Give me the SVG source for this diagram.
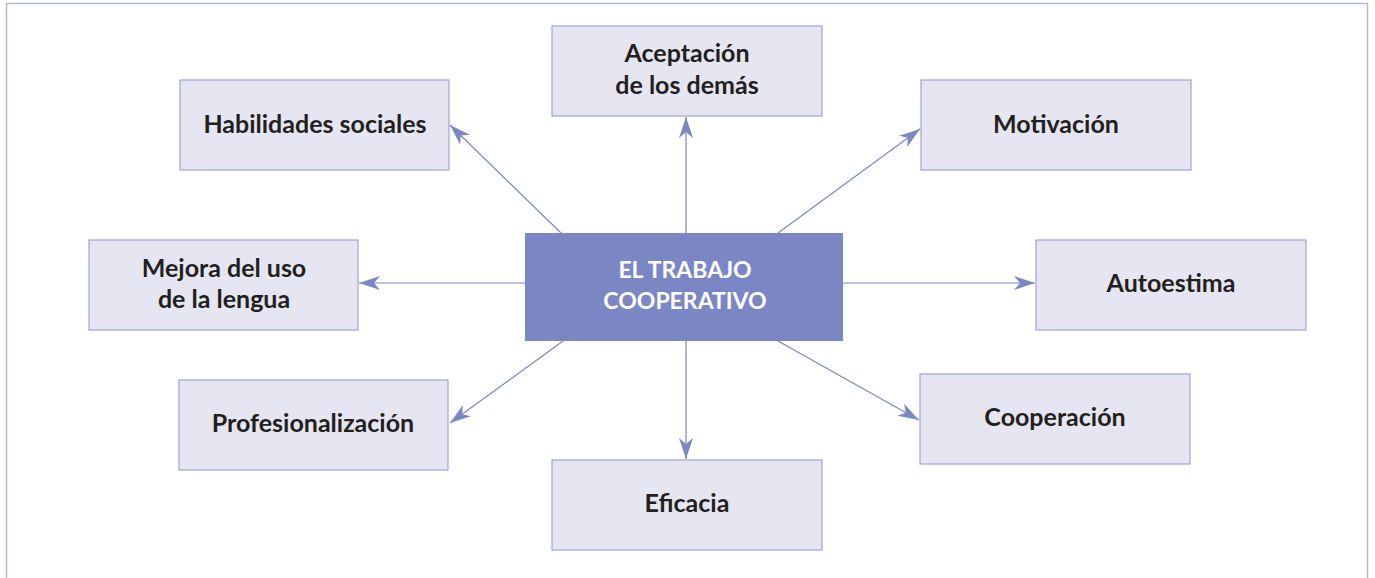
<svg xmlns="http://www.w3.org/2000/svg" width="1375" height="578" viewBox="0 0 1375 578">
<style>
.box{fill:#e6e6f2;stroke:#9da3d6;stroke-width:1.2}
.ctr{fill:#7b86c4}
.t{font-family:Lato,"Open Sans",sans-serif;font-weight:bold;font-size:25px;fill:#231f20;text-anchor:middle}
.tc{font-family:Lato,"Open Sans",sans-serif;font-weight:bold;font-size:23px;fill:#ffffff;text-anchor:middle}
.c{stroke:#7b86c4;stroke-width:1.2;fill:none;marker-end:url(#ah)}
</style>
<defs>
<marker id="ah" markerUnits="userSpaceOnUse" markerWidth="22" markerHeight="16" viewBox="0 0 22 16" refX="21" refY="8" orient="auto">
<path d="M0,1 L21,8 L0,15 L6,8 z" fill="#7b86c4"/>
</marker>
</defs>
<rect x="6.5" y="3.5" width="1361" height="600" fill="none" stroke="#b0b6e0" stroke-width="1.5"/>
<g id="connectors">
<line class="c" x1="686" y1="233" x2="686" y2="117"/>
<line class="c" x1="561" y1="233" x2="450" y2="125"/>
<line class="c" x1="778" y1="233" x2="920" y2="129"/>
<line class="c" x1="525" y1="283" x2="359" y2="283"/>
<line class="c" x1="843" y1="283" x2="1035" y2="283"/>
<line class="c" x1="563" y1="341" x2="450" y2="423"/>
<line class="c" x1="778" y1="341" x2="919" y2="420"/>
<line class="c" x1="686" y1="341" x2="686" y2="459"/>
</g>
<g id="center">
<rect class="ctr" x="525" y="233" width="318" height="108"/>
<text class="tc" x="685" y="278">EL TRABAJO</text>
<text class="tc" x="685" y="309">COOPERATIVO</text>
</g>
<g id="aceptacion">
<rect class="box" x="552" y="26" width="270" height="90"/>
<text class="t" x="687" y="62">Aceptación</text>
<text class="t" x="687" y="94">de los demás</text>
</g>
<g id="habilidades">
<rect class="box" x="180" y="80" width="269" height="90"/>
<text class="t" x="315" y="133">Habilidades sociales</text>
</g>
<g id="motivacion">
<rect class="box" x="921" y="80" width="270" height="90"/>
<text class="t" x="1056" y="133">Motivación</text>
</g>
<g id="mejora">
<rect class="box" x="89" y="240" width="269" height="90"/>
<text class="t" x="224" y="277">Mejora del uso</text>
<text class="t" x="224" y="308">de la lengua</text>
</g>
<g id="autoestima">
<rect class="box" x="1036" y="240" width="270" height="90"/>
<text class="t" x="1171" y="292">Autoestima</text>
</g>
<g id="profesionalizacion">
<rect class="box" x="179" y="380" width="269" height="90"/>
<text class="t" x="313" y="432">Profesionalización</text>
</g>
<g id="cooperacion">
<rect class="box" x="920" y="374" width="270" height="90"/>
<text class="t" x="1055" y="426">Cooperación</text>
</g>
<g id="eficacia">
<rect class="box" x="552" y="460" width="270" height="90"/>
<text class="t" x="687" y="512">Eficacia</text>
</g>
</svg>
